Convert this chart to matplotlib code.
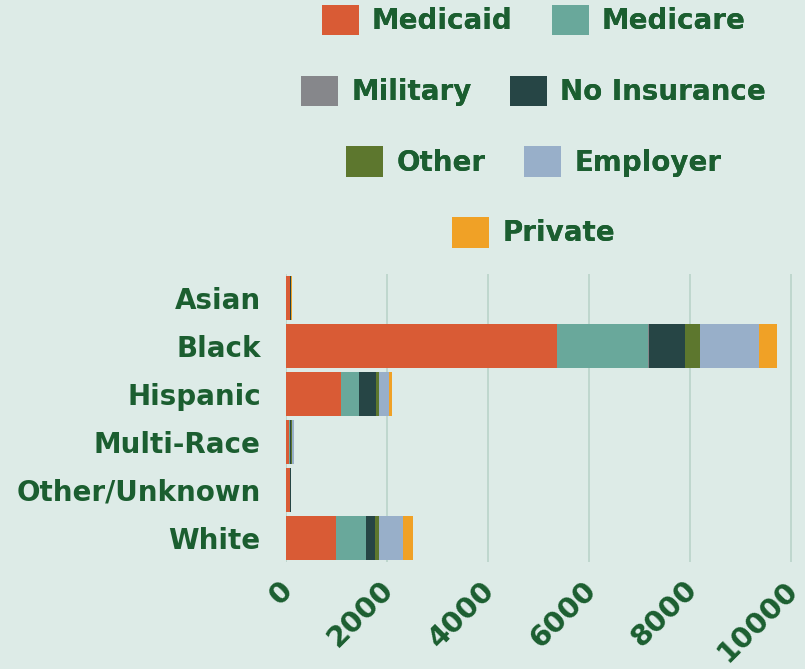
import numpy as np
import matplotlib
matplotlib.use("Agg")
from matplotlib import pyplot as plt
from matplotlib.transforms import ScaledTranslation

# data
groups = ["Asian", "Black", "Hispanic", "Multi-Race", "Other/Unknown", "White"]
medicaid = [75, 5370, 1090, 70, 85, 990]
medicare = [10, 1800, 355, 20, 0, 595]
military = [0, 20, 10, 0, 0, 10]
no_insurance = [10, 710, 325, 10, 10, 170]
other = [0, 300, 60, 30, 0, 80]
employer = [15, 1170, 200, 30, 5, 475]
private = [10, 355, 60, 0, 0, 200]

series = {
    "Medicaid": medicaid,
    "Medicare": medicare,
    "Military": military,
    "No Insurance": no_insurance,
    "Other": other,
    "Employer": employer,
    "Private": private,
}
colors = {
    "Medicaid": "#D95B35",
    "Medicare": "#69A89B",
    "Military": "#86878B",
    "No Insurance": "#264545",
    "Other": "#5D772E",
    "Employer": "#98AFC9",
    "Private": "#F0A126",
}
x_ticks = [0, 2000, 4000, 6000, 8000, 10000]

bg = "#DDEBE7"
text_color = "#1B5E30"
plt.rcParams["font.family"] = ["DejaVu Sans"]
plt.rcParams["font.weight"] = "bold"

fig = plt.figure(figsize=(8.05, 6.69), dpi=100, facecolor=bg)
ax = fig.add_axes([0.355, 0.160, 0.6385, 0.4305], facecolor=bg)

y = np.arange(len(groups))
left = np.zeros(len(groups))
handles = {}
for name, vals in series.items():
    vals = np.array(vals, dtype=float)
    bars = ax.barh(y, vals, left=left, height=0.92, color=colors[name],
                   label=name, zorder=3)
    handles[name] = bars
    left += vals

ax.set_xlim(0, 10180)
ax.set_ylim(len(groups) - 0.5, -0.5)
ax.set_yticks(y)
ax.set_yticklabels(groups, fontsize=20, fontweight="bold", color=text_color)
ax.set_xticks(x_ticks)
ax.set_xticklabels([str(t) for t in x_ticks], fontsize=21, fontweight="bold",
                   color=text_color, rotation=45, ha="right", va="center",
                   rotation_mode="anchor")
ax.tick_params(axis="both", length=0)
ax.tick_params(axis="y", pad=18)
ax.tick_params(axis="x", pad=17)
shift = ScaledTranslation(3 / 100, 0, fig.dpi_scale_trans)
for lab in ax.get_xticklabels():
    lab.set_transform(lab.get_transform() + shift)
ax.grid(axis="x", color="#B9D3CA", linewidth=1.2, zorder=0)
for s in ax.spines.values():
    s.set_visible(False)

# legend rows, each centred like the original
rows = [["Medicaid", "Medicare"], ["Military", "No Insurance"],
        ["Other", "Employer"], ["Private"]]
row_y = [0.970, 0.864, 0.759, 0.653]
for names, ry in zip(rows, row_y):
    leg = fig.legend([handles[n] for n in names], names, loc="center",
                     bbox_to_anchor=(0.663, ry), ncol=len(names), frameon=False,
                     handlelength=1.33, handleheight=1.33,
                     handletextpad=0.47, columnspacing=1.4,
                     prop={"weight": "bold", "size": 20})
    for t in leg.get_texts():
        t.set_color(text_color)
    fig.add_artist(leg)

fig.savefig("out.png", dpi=100, facecolor=bg)
